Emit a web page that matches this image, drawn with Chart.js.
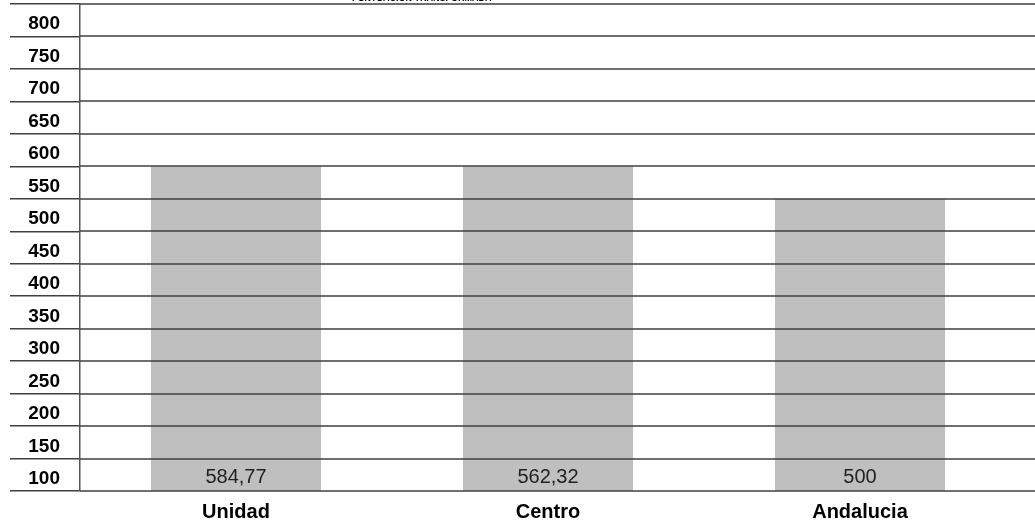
<!DOCTYPE html>
<html>
<head>
<meta charset="utf-8">
<script src="https://cdn.jsdelivr.net/npm/chart.js@4/dist/chart.umd.min.js"></script>
<style>
  html, body { margin: 0; padding: 0; background: #fff; }
  #wrap { position: relative; width: 1035px; height: 521px; overflow: hidden; }
  #titulo {
    position: absolute; left: 352px; top: -6px;
    font: bold 9px "Liberation Sans", Arial, sans-serif; line-height: 9px;
    color: #000; white-space: nowrap;
  }
</style>
</head>
<body>
<div id="wrap">
  <canvas id="grafico" width="1035" height="521"></canvas>
  <div id="titulo">PUNTUACION TRANSFORMADA</div>
</div>
<script>
// datos
const categorias = ['Unidad', 'Centro', 'Andalucia'];
// altura visible de cada barra (la tabla rellena franjas completas de 50)
const alturas = [550, 550, 500];
// puntuacion escrita dentro de cada barra
const puntuaciones = [584.77, 562.32, 500];
const etiquetasY = ['800', '750', '700', '650', '600', '550', '500', '450', '400', '350', '300', '250', '200', '150', '100'];

const fuente = '"Liberation Sans", Arial, sans-serif';
const colorLinea = '#404040';

// lineas de la tabla (tambien sobre las barras) + puntuacion al pie de cada barra
const valoresPlugin = {
    id: 'valores',
    afterDraw(chart) {
        const ctx = chart.ctx;
        const area = chart.chartArea;
        const meta = chart.getDatasetMeta(0);
        const y = chart.scales.y;

        ctx.save();
        ctx.fillStyle = colorLinea;
        const bordes = [50].concat(etiquetasY.map(Number));
        bordes.forEach(v => {
            const py = Math.round(y.getPixelForValue(v));
            ctx.fillRect(area.left, py - 0.75, chart.width - area.left, 1.5);
        });

        ctx.font = '20px ' + fuente;
        ctx.fillStyle = '#222';
        ctx.textAlign = 'center';
        ctx.textBaseline = 'middle';
        meta.data.forEach((bar, i) => {
            const txt = String(puntuaciones[i]).replace('.', ',');
            ctx.fillText(txt, bar.x, area.bottom - 14);
        });
        ctx.restore();
    }
};

new Chart(document.getElementById('grafico'), {
    type: 'bar',
    data: {
        labels: categorias,
        datasets: [{
            data: alturas,
            // gris semitransparente: sobre blanco da #BFBFBF y deja ver las lineas
            backgroundColor: 'rgba(0, 0, 0, 0.25)',
            borderWidth: 0,
            categoryPercentage: 0.545,
            barPercentage: 1,
            yAxisID: 'y'
        }]
    },
    options: {
        responsive: false,
        animation: false,
        layout: { padding: { top: 4, left: 0, right: 19, bottom: 0 } },
        plugins: {
            legend: { display: false },
            tooltip: { enabled: false }
        },
        scales: {
            x: {
                grid: { display: false, drawTicks: false },
                border: { display: false },
                ticks: {
                    color: '#000',
                    padding: 9,
                    font: { family: fuente, size: 20, weight: 'bold' }
                },
                afterFit: s => { s.height = 30; }
            },
            y: {
                display: false,
                min: 50,
                max: 800
            },
            yl: {
                type: 'category',
                position: 'left',
                labels: etiquetasY,
                offset: true,
                grid: {
                    offset: true,
                    color: colorLinea,
                    lineWidth: 1.5,
                    drawOnChartArea: false,
                    tickLength: 70
                },
                border: { display: true, color: '#555', width: 1.5 },
                ticks: {
                    color: '#000',
                    padding: -50,
                    labelOffset: 4,
                    font: { family: fuente, size: 19, weight: 'bold' }
                },
                afterFit: s => { s.width = 80; }
            }
        }
    },
    plugins: [valoresPlugin]
});
</script>
</body>
</html>
